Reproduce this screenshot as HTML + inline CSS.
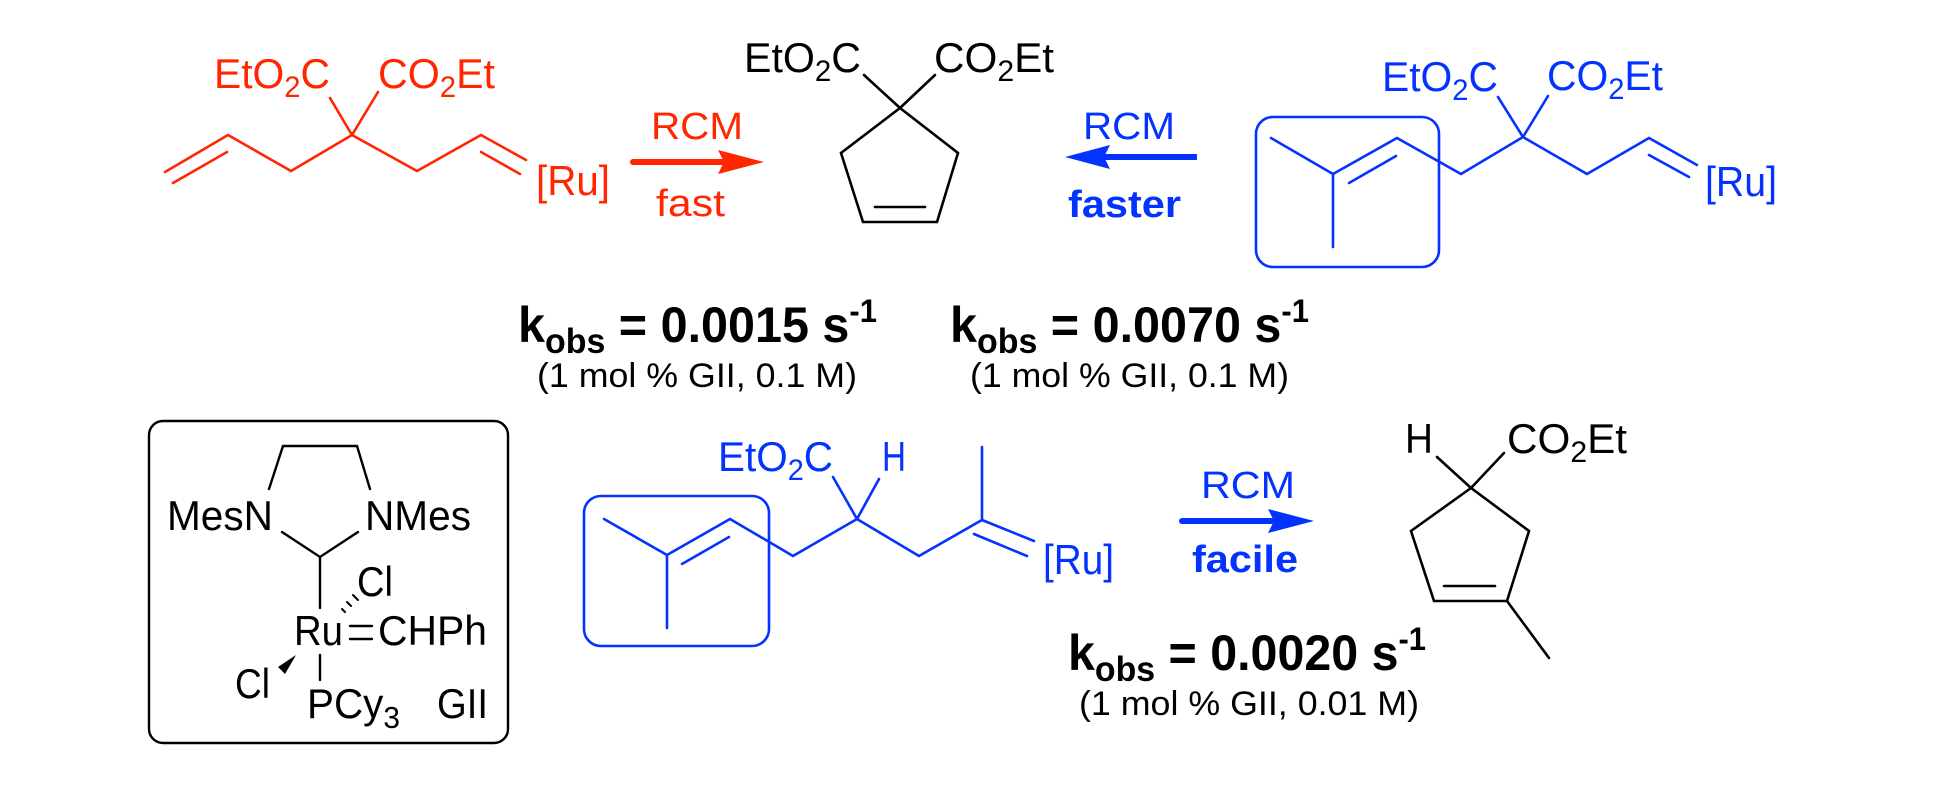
<!DOCTYPE html>
<html><head><meta charset="utf-8"><style>
html,body{margin:0;padding:0;background:#fff;}
svg{display:block;}
text{font-family:"Liberation Sans",Arial,sans-serif;}
</style></head><body>
<svg width="1934" height="806" viewBox="0 0 1934 806" xmlns="http://www.w3.org/2000/svg">
<rect width="1934" height="806" fill="#fff"/>

<!-- Red substrate -->
<g stroke="#ff2600" stroke-width="2.6" fill="none" stroke-linecap="round">
<polyline points="165,172 228,135 291,171 352,135 417,171 481,135 526,160"/>
<line x1="173" y1="183" x2="227" y2="152"/>
<line x1="481" y1="152" x2="520" y2="174"/>
<line x1="352" y1="135" x2="330" y2="98"/>
<line x1="352" y1="135" x2="378" y2="92"/>
<line x1="633" y1="162" x2="725" y2="162" stroke-width="6"/>
</g>
<polygon points="764,162 718,150 724,162 718,174" fill="#ff2600"/>
<g fill="#ff2600" font-size="42">
<text x="214" y="88" textLength="116" lengthAdjust="spacingAndGlyphs">EtO<tspan font-size="30" dy="9">2</tspan><tspan dy="-9">C</tspan></text>
<text x="378" y="88" textLength="117" lengthAdjust="spacingAndGlyphs">CO<tspan font-size="30" dy="9">2</tspan><tspan dy="-9">Et</tspan></text>
<text x="536" y="195" textLength="74" lengthAdjust="spacingAndGlyphs">[Ru]</text>
<text x="651" y="139" font-size="38" textLength="92" lengthAdjust="spacingAndGlyphs">RCM</text>
<text x="656" y="216" font-size="38" textLength="69" lengthAdjust="spacingAndGlyphs">fast</text>
</g>

<!-- Middle cyclopentene -->
<g stroke="#000" stroke-width="2.6" fill="none" stroke-linecap="round">
<polygon points="900,108 841,153 863,222 937,222 958,153" stroke-linejoin="miter"/>
<line x1="875" y1="207" x2="925" y2="207"/>
<line x1="900" y1="108" x2="864" y2="75"/>
<line x1="900" y1="108" x2="935" y2="75"/>
</g>
<g fill="#000" font-size="42">
<text x="744" y="72" textLength="117" lengthAdjust="spacingAndGlyphs">EtO<tspan font-size="30" dy="9">2</tspan><tspan dy="-9">C</tspan></text>
<text x="934" y="72" textLength="120" lengthAdjust="spacingAndGlyphs">CO<tspan font-size="30" dy="9">2</tspan><tspan dy="-9">Et</tspan></text>
</g>

<!-- Blue arrow top -->
<line x1="1100" y1="157" x2="1197" y2="157" stroke="#0433ff" stroke-width="6"/>
<polygon points="1065,157 1110,145 1104,157 1110,169" fill="#0433ff"/>
<g fill="#0433ff">
<text x="1083" y="139" font-size="38" textLength="92" lengthAdjust="spacingAndGlyphs">RCM</text>
<text x="1068" y="217" font-size="38" font-weight="bold" textLength="113" lengthAdjust="spacingAndGlyphs">faster</text>
</g>

<!-- Right blue substrate -->
<g stroke="#0433ff" stroke-width="2.6" fill="none" stroke-linecap="round">
<rect x="1256" y="117" width="183" height="150" rx="17"/>
<polyline points="1271,138 1333,174 1397,138 1461,174 1523,137 1587,174 1649,138 1697,165"/>
<line x1="1333" y1="174" x2="1333" y2="247"/>
<line x1="1349" y1="183" x2="1396" y2="156"/>
<line x1="1649" y1="155" x2="1689" y2="177"/>
<line x1="1523" y1="137" x2="1498" y2="97"/>
<line x1="1523" y1="137" x2="1548" y2="96"/>
</g>
<g fill="#0433ff" font-size="42">
<text x="1382" y="91" textLength="116" lengthAdjust="spacingAndGlyphs">EtO<tspan font-size="30" dy="9">2</tspan><tspan dy="-9">C</tspan></text>
<text x="1547" y="90" textLength="116" lengthAdjust="spacingAndGlyphs">CO<tspan font-size="30" dy="9">2</tspan><tspan dy="-9">Et</tspan></text>
<text x="1705" y="196" textLength="72" lengthAdjust="spacingAndGlyphs">[Ru]</text>
</g>

<!-- kobs rows -->
<g fill="#000">
<text x="518" y="342" font-size="50" font-weight="bold" textLength="359" lengthAdjust="spacingAndGlyphs">k<tspan font-size="35" dy="11">obs</tspan><tspan dy="-11"> = 0.0015 s</tspan><tspan font-size="32" dy="-20">-1</tspan></text>
<text x="537" y="387" font-size="34" textLength="320" lengthAdjust="spacingAndGlyphs">(1 mol % GII, 0.1 M)</text>
<text x="950" y="342" font-size="50" font-weight="bold" textLength="359" lengthAdjust="spacingAndGlyphs">k<tspan font-size="35" dy="11">obs</tspan><tspan dy="-11"> = 0.0070 s</tspan><tspan font-size="32" dy="-20">-1</tspan></text>
<text x="970" y="387" font-size="34" textLength="319" lengthAdjust="spacingAndGlyphs">(1 mol % GII, 0.1 M)</text>
<text x="1068" y="670" font-size="50" font-weight="bold" textLength="358" lengthAdjust="spacingAndGlyphs">k<tspan font-size="35" dy="11">obs</tspan><tspan dy="-11"> = 0.0020 s</tspan><tspan font-size="32" dy="-20">-1</tspan></text>
<text x="1079" y="715" font-size="34" textLength="340" lengthAdjust="spacingAndGlyphs">(1 mol % GII, 0.01 M)</text>
</g>

<!-- GII box -->
<g stroke="#000" stroke-width="2.4" fill="none" stroke-linecap="round">
<rect x="149" y="421" width="359" height="322" rx="14"/>
<polyline points="269,489 283,446 357,446 370,489"/>
<polyline points="282,532 320,557 358,532"/>
<line x1="320" y1="557" x2="320" y2="608"/>
<line x1="320" y1="655" x2="320" y2="680"/>
<line x1="350" y1="626" x2="372" y2="626"/>
<line x1="350" y1="639" x2="372" y2="639"/>
<line x1="342" y1="609" x2="345" y2="612" stroke-width="2"/>
<line x1="347" y1="602" x2="351" y2="606" stroke-width="2"/>
<line x1="353" y1="595" x2="358" y2="600" stroke-width="2"/>
</g>
<polygon points="296,655 278,667 285,674" fill="#000"/>
<g fill="#000" font-size="42">
<text x="167" y="530" textLength="106" lengthAdjust="spacingAndGlyphs">MesN</text>
<text x="365" y="530" textLength="106" lengthAdjust="spacingAndGlyphs">NMes</text>
<text x="357" y="596" textLength="36" lengthAdjust="spacingAndGlyphs">Cl</text>
<text x="294" y="645" textLength="49" lengthAdjust="spacingAndGlyphs">Ru</text>
<text x="378" y="645" textLength="109" lengthAdjust="spacingAndGlyphs">CHPh</text>
<text x="235" y="698" textLength="35" lengthAdjust="spacingAndGlyphs">Cl</text>
<text x="307" y="718" textLength="93" lengthAdjust="spacingAndGlyphs">PCy<tspan font-size="31" dy="10">3</tspan></text>
<text x="437" y="718" textLength="51" lengthAdjust="spacingAndGlyphs">GII</text>
</g>

<!-- Bottom blue substrate -->
<g stroke="#0433ff" stroke-width="2.6" fill="none" stroke-linecap="round">
<rect x="584" y="496" width="185" height="150" rx="17"/>
<polyline points="604,519 667,555 730,519 793,556 857,519 919,556 982,520 1034,541"/>
<line x1="667" y1="555" x2="667" y2="628"/>
<line x1="682" y1="564" x2="729" y2="537"/>
<line x1="974" y1="534" x2="1027" y2="556"/>
<line x1="982" y1="520" x2="982" y2="447"/>
<line x1="857" y1="519" x2="833" y2="477"/>
<line x1="857" y1="519" x2="879" y2="479"/>
<line x1="1182" y1="521" x2="1275" y2="521" stroke-width="6"/>
</g>
<polygon points="1314,521 1268,509 1274,521 1268,533" fill="#0433ff"/>
<g fill="#0433ff" font-size="42">
<text x="718" y="471" textLength="115" lengthAdjust="spacingAndGlyphs">EtO<tspan font-size="30" dy="9">2</tspan><tspan dy="-9">C</tspan></text>
<text x="882" y="471" textLength="24" lengthAdjust="spacingAndGlyphs">H</text>
<text x="1043" y="574" textLength="71" lengthAdjust="spacingAndGlyphs">[Ru]</text>
<text x="1201" y="498" font-size="38" textLength="94" lengthAdjust="spacingAndGlyphs">RCM</text>
<text x="1192" y="572" font-size="38" font-weight="bold" textLength="106" lengthAdjust="spacingAndGlyphs">facile</text>
</g>

<!-- Bottom product -->
<g stroke="#000" stroke-width="2.6" fill="none" stroke-linecap="round">
<polygon points="1471,488 1411,531 1434,601 1507,601 1529,531"/>
<line x1="1444" y1="586" x2="1495" y2="586"/>
<line x1="1507" y1="601" x2="1549" y2="658"/>
<line x1="1471" y1="488" x2="1437" y2="457"/>
<line x1="1471" y1="488" x2="1504" y2="453"/>
</g>
<g fill="#000" font-size="42">
<text x="1405" y="453" textLength="28" lengthAdjust="spacingAndGlyphs">H</text>
<text x="1507" y="453" textLength="120" lengthAdjust="spacingAndGlyphs">CO<tspan font-size="30" dy="9">2</tspan><tspan dy="-9">Et</tspan></text>
</g>
</svg>
</body></html>
